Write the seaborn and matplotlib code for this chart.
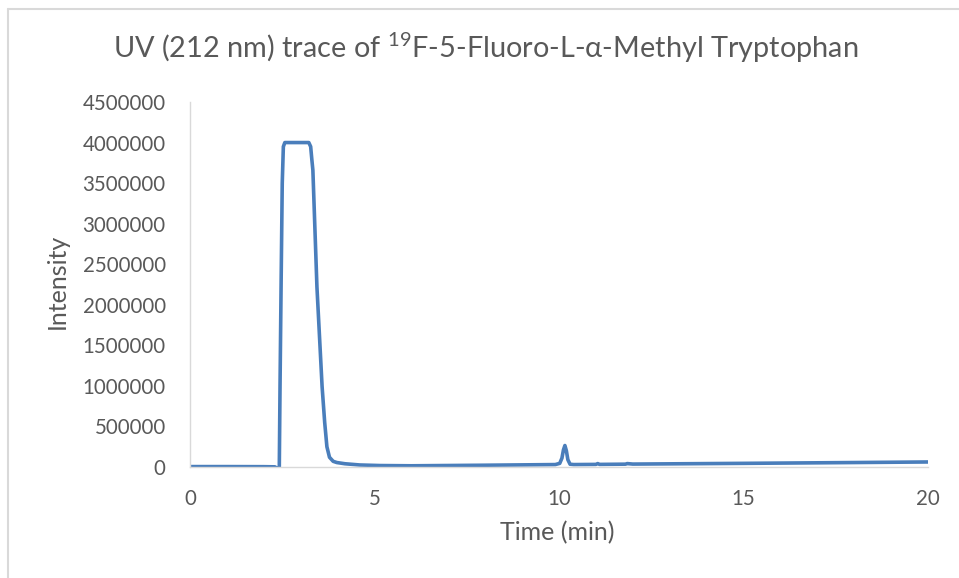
import matplotlib
matplotlib.use("Agg")
import matplotlib.pyplot as plt
import seaborn as sns
import pandas as pd
from matplotlib.lines import Line2D

time_min = [0, 1, 2, 2.3, 2.38, 2.42, 2.44, 2.47, 2.50, 2.53, 2.57, 3.0, 3.22, 3.27,
            3.30, 3.33, 3.44, 3.58, 3.65, 3.71, 3.78, 3.88, 3.98, 4.2, 4.6, 5.15, 6,
            8, 9.9, 10.02, 10.08, 10.12, 10.16, 10.20, 10.24, 10.3, 10.4, 11, 11.05,
            11.1, 11.8, 11.85, 12, 15, 18, 20]
intensity = [5000, 5000, 4000, 2000, -20000, 0, 1000000, 2300000, 3500000, 3950000,
             4000000, 4000000, 4000000, 3950000, 3800000, 3660000, 2220000, 990000,
             550000, 250000, 120000, 70000, 55000, 40000, 25000, 18000, 15000, 22000,
             30000, 45000, 110000, 210000, 265000, 200000, 90000, 34000, 30000, 32000,
             42000, 32000, 35000, 42000, 36000, 45000, 55000, 62000]
x_ticks = [0, 5, 10, 15, 20]
y_ticks = [0, 500000, 1000000, 1500000, 2000000, 2500000, 3000000, 3500000, 4000000, 4500000]

df = pd.DataFrame({"Time (min)": time_min, "Intensity": intensity})

sns.set_theme(style="white")
plt.rcParams["font.family"] = ["Lato", "DejaVu Sans"]
plt.rcParams["mathtext.fontset"] = "custom"
plt.rcParams["mathtext.rm"] = "Lato"

text_color = "#595959"
fig = plt.figure(figsize=(9.59, 5.78), dpi=100)
ax = fig.add_axes([190/959, 1-467/578, (928-190)/959, (467-102)/578])

sns.lineplot(data=df, x="Time (min)", y="Intensity", ax=ax, color="#4a7ebb",
             linewidth=2.6, sort=False)

ax.set_xlim(0, 20)
ax.set_ylim(0, 4500000)
ax.set_xticks(x_ticks)
ax.set_yticks(y_ticks)
ax.set_xticklabels([str(v) for v in x_ticks])
ax.set_yticklabels([str(v) for v in y_ticks])
ax.tick_params(axis="both", length=0, labelsize=14.8, colors=text_color)
ax.tick_params(axis="y", pad=17.5)
ax.tick_params(axis="x", pad=16)
for s in ["top", "right"]:
    ax.spines[s].set_visible(False)
for s in ["left", "bottom"]:
    ax.spines[s].set_color("#d9d9d9")
    ax.spines[s].set_linewidth(1.0)
ax.set_xlabel("Time (min)", fontsize=18, color=text_color, va="center", ha="center")
ax.set_ylabel("Intensity", fontsize=18, color=text_color, va="center", ha="center")
ax.xaxis.set_label_coords(0.497, -66/365)
ax.yaxis.set_label_coords(-133/738, 0.508)

fig.text(485.5/959, 1-48/578,
         r"UV (212 nm) trace of $^{\mathregular{19}}$F-5-Fluoro-L-α-Methyl Tryptophan",
         ha="center", va="center", fontsize=20.8, color=text_color)

W, H = 959, 578
fig.lines.append(Line2D([8/W, 1], [1-9/H, 1-9/H], transform=fig.transFigure,
                        color="#d9d9d9", linewidth=1.5))
fig.lines.append(Line2D([8/W, 8/W], [0, 1-9/H], transform=fig.transFigure,
                        color="#d9d9d9", linewidth=1.5))

fig.savefig("out.png", dpi=100)
